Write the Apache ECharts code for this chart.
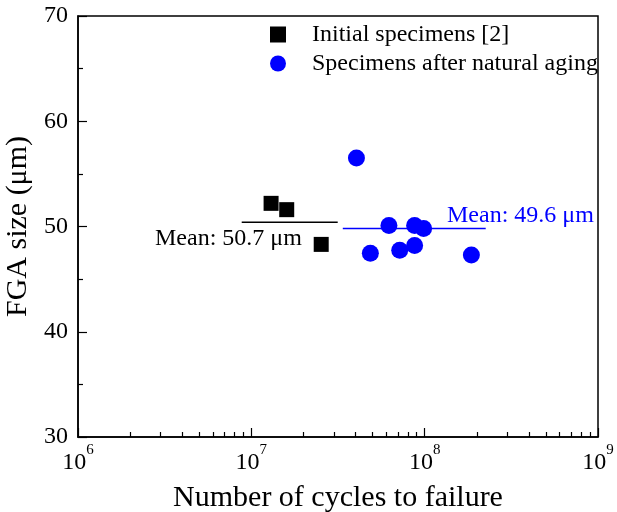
<!DOCTYPE html>
<html>
<head>
<meta charset="utf-8">
<script src="https://cdn.jsdelivr.net/npm/echarts@6/dist/echarts.min.js"></script>
<style>
html,body{margin:0;padding:0;background:#fff;}
#main{width:617px;height:512px;}
</style>
</head>
<body>
<div id="main"></div>
<script>
// ---- data ----
const initialCycles = [1.30e7, 1.60e7, 2.53e7];
const initialFGA = [52.2, 51.6, 48.3];
const agedCycles = [4.04e7, 6.22e7, 8.75e7, 9.86e7, 4.86e7, 7.18e7, 8.75e7, 1.86e8];
const agedFGA = [56.5, 50.1, 50.1, 49.8, 47.45, 47.75, 48.2, 47.3];
const meanInitialX = [8.8e6, 3.15e7];
const meanInitialY = 50.4;
const meanAgedX = [3.37e7, 2.25e8];
const meanAgedY = 49.8;
const meanInitialText = 'Mean: 50.7 μm';
const meanAgedText = 'Mean: 49.6 μm';
const seriesNames = ['Initial specimens [2]', 'Specimens after natural aging'];
const yTicks = [30, 40, 50, 60, 70];
const xDecades = [6, 7, 8, 9];
const minorMultipliers = [2, 3, 4, 5, 6, 7, 8, 9];

const FONT = '"Liberation Serif", "Times New Roman", serif';
const minorXTicks = [];
for (let d = xDecades[0]; d < xDecades[xDecades.length - 1]; d++) {
  minorMultipliers.forEach(m => minorXTicks.push(Math.log10(m) + d));
}

const chart = echarts.init(document.getElementById('main'), null, {renderer: 'canvas'});
const option = {
  backgroundColor: '#fff',
  animation: false,
  grid: {left: 78, right: 19, top: 16, bottom: 75, show: true, borderColor: '#000', borderWidth: 1.5, containLabel: false, outerBoundsMode: 'none'},
  legend: {
    orient: 'vertical', left: 265, top: 17, itemGap: 4,
    itemWidth: 16, itemHeight: 16,
    textStyle: {fontFamily: FONT, fontSize: 24, color: '#000', lineHeight: 25, padding: [0,0,0,21]},
    data: [{name: seriesNames[0], icon: 'rect', itemStyle: {opacity: 1}}, {name: seriesNames[1], icon: 'circle', itemStyle: {opacity: 1}}]
  },
  xAxis: [{
    type: 'log', logBase: 10, min: Math.pow(10, xDecades[0]), max: Math.pow(10, xDecades[xDecades.length-1]),
    name: 'Number of cycles to failure', nameLocation: 'middle', nameGap: 46,
    nameTextStyle: {fontFamily: FONT, fontSize: 30, color: '#000'},
    axisLine: {show: true, lineStyle: {color: '#000', width: 1.5}},
    axisTick: {show: true, inside: true, length: 9, lineStyle: {color: '#000', width: 1.2}},
    splitLine: {show: false},
    axisLabel: {
      margin: 6, color: '#000',
      formatter: v => '{b|10}{s|' + Math.round(Math.log10(v)) + '}',
      rich: {
        b: {fontFamily: FONT, fontSize: 24, color: '#000', lineHeight: 32, verticalAlign: 'bottom'},
        s: {fontFamily: FONT, fontSize: 15, color: '#000', lineHeight: 18, verticalAlign: 'top'}
      }
    }
  }, {
    type: 'value', min: xDecades[0], max: xDecades[xDecades.length-1], position: 'bottom',
    axisLine: {show: false},
    axisTick: {show: true, inside: true, length: 5, customValues: minorXTicks, lineStyle: {color: '#000', width: 1.2}},
    axisLabel: {show: false},
    splitLine: {show: false}
  }],
  yAxis: {
    type: 'value', min: yTicks[0], max: yTicks[yTicks.length-1], interval: 10,
    name: 'FGA size (μm)', nameLocation: 'middle', nameGap: 43,
    nameTextStyle: {fontFamily: FONT, fontSize: 30, color: '#000'},
    axisLine: {show: true, lineStyle: {color: '#000', width: 1.5}},
    axisTick: {show: true, inside: true, length: 9, lineStyle: {color: '#000', width: 1.2}},
    minorTick: {show: true, splitNumber: 2, length: 5, lineStyle: {color: '#000', width: 1.2}},
    splitLine: {show: false},
    minorSplitLine: {show: false},
    axisLabel: {fontFamily: FONT, fontSize: 24, color: '#000', margin: 10}
  },
  graphic: [
    {type: 'text', left: 155, top: 227, style: {text: meanInitialText, font: '24px ' + FONT, fill: '#000'}},
    {type: 'text', left: 447, top: 204, style: {text: meanAgedText, font: '24px ' + FONT, fill: '#0000ff'}}
  ],
  series: [
    {
      name: seriesNames[0], type: 'scatter', symbol: 'rect', symbolSize: 15,
      itemStyle: {color: '#000', opacity: 1},
      data: initialCycles.map((x, i) => [x, initialFGA[i]]), z: 3
    },
    {
      name: seriesNames[1], type: 'scatter', symbol: 'circle', symbolSize: 17,
      itemStyle: {color: '#0000ff', opacity: 1},
      data: agedCycles.map((x, i) => [x, agedFGA[i]]), z: 3
    },
    {
      name: 'meanInitial', type: 'line', symbol: 'none', lineStyle: {color: '#000', width: 1.5},
      data: meanInitialX.map(x => [x, meanInitialY]), z: 2
    },
    {
      name: 'meanAged', type: 'line', symbol: 'none', lineStyle: {color: '#0000ff', width: 1.5},
      data: meanAgedX.map(x => [x, meanAgedY]), z: 2
    }
  ]
};
chart.setOption(option);
</script>
</body>
</html>
